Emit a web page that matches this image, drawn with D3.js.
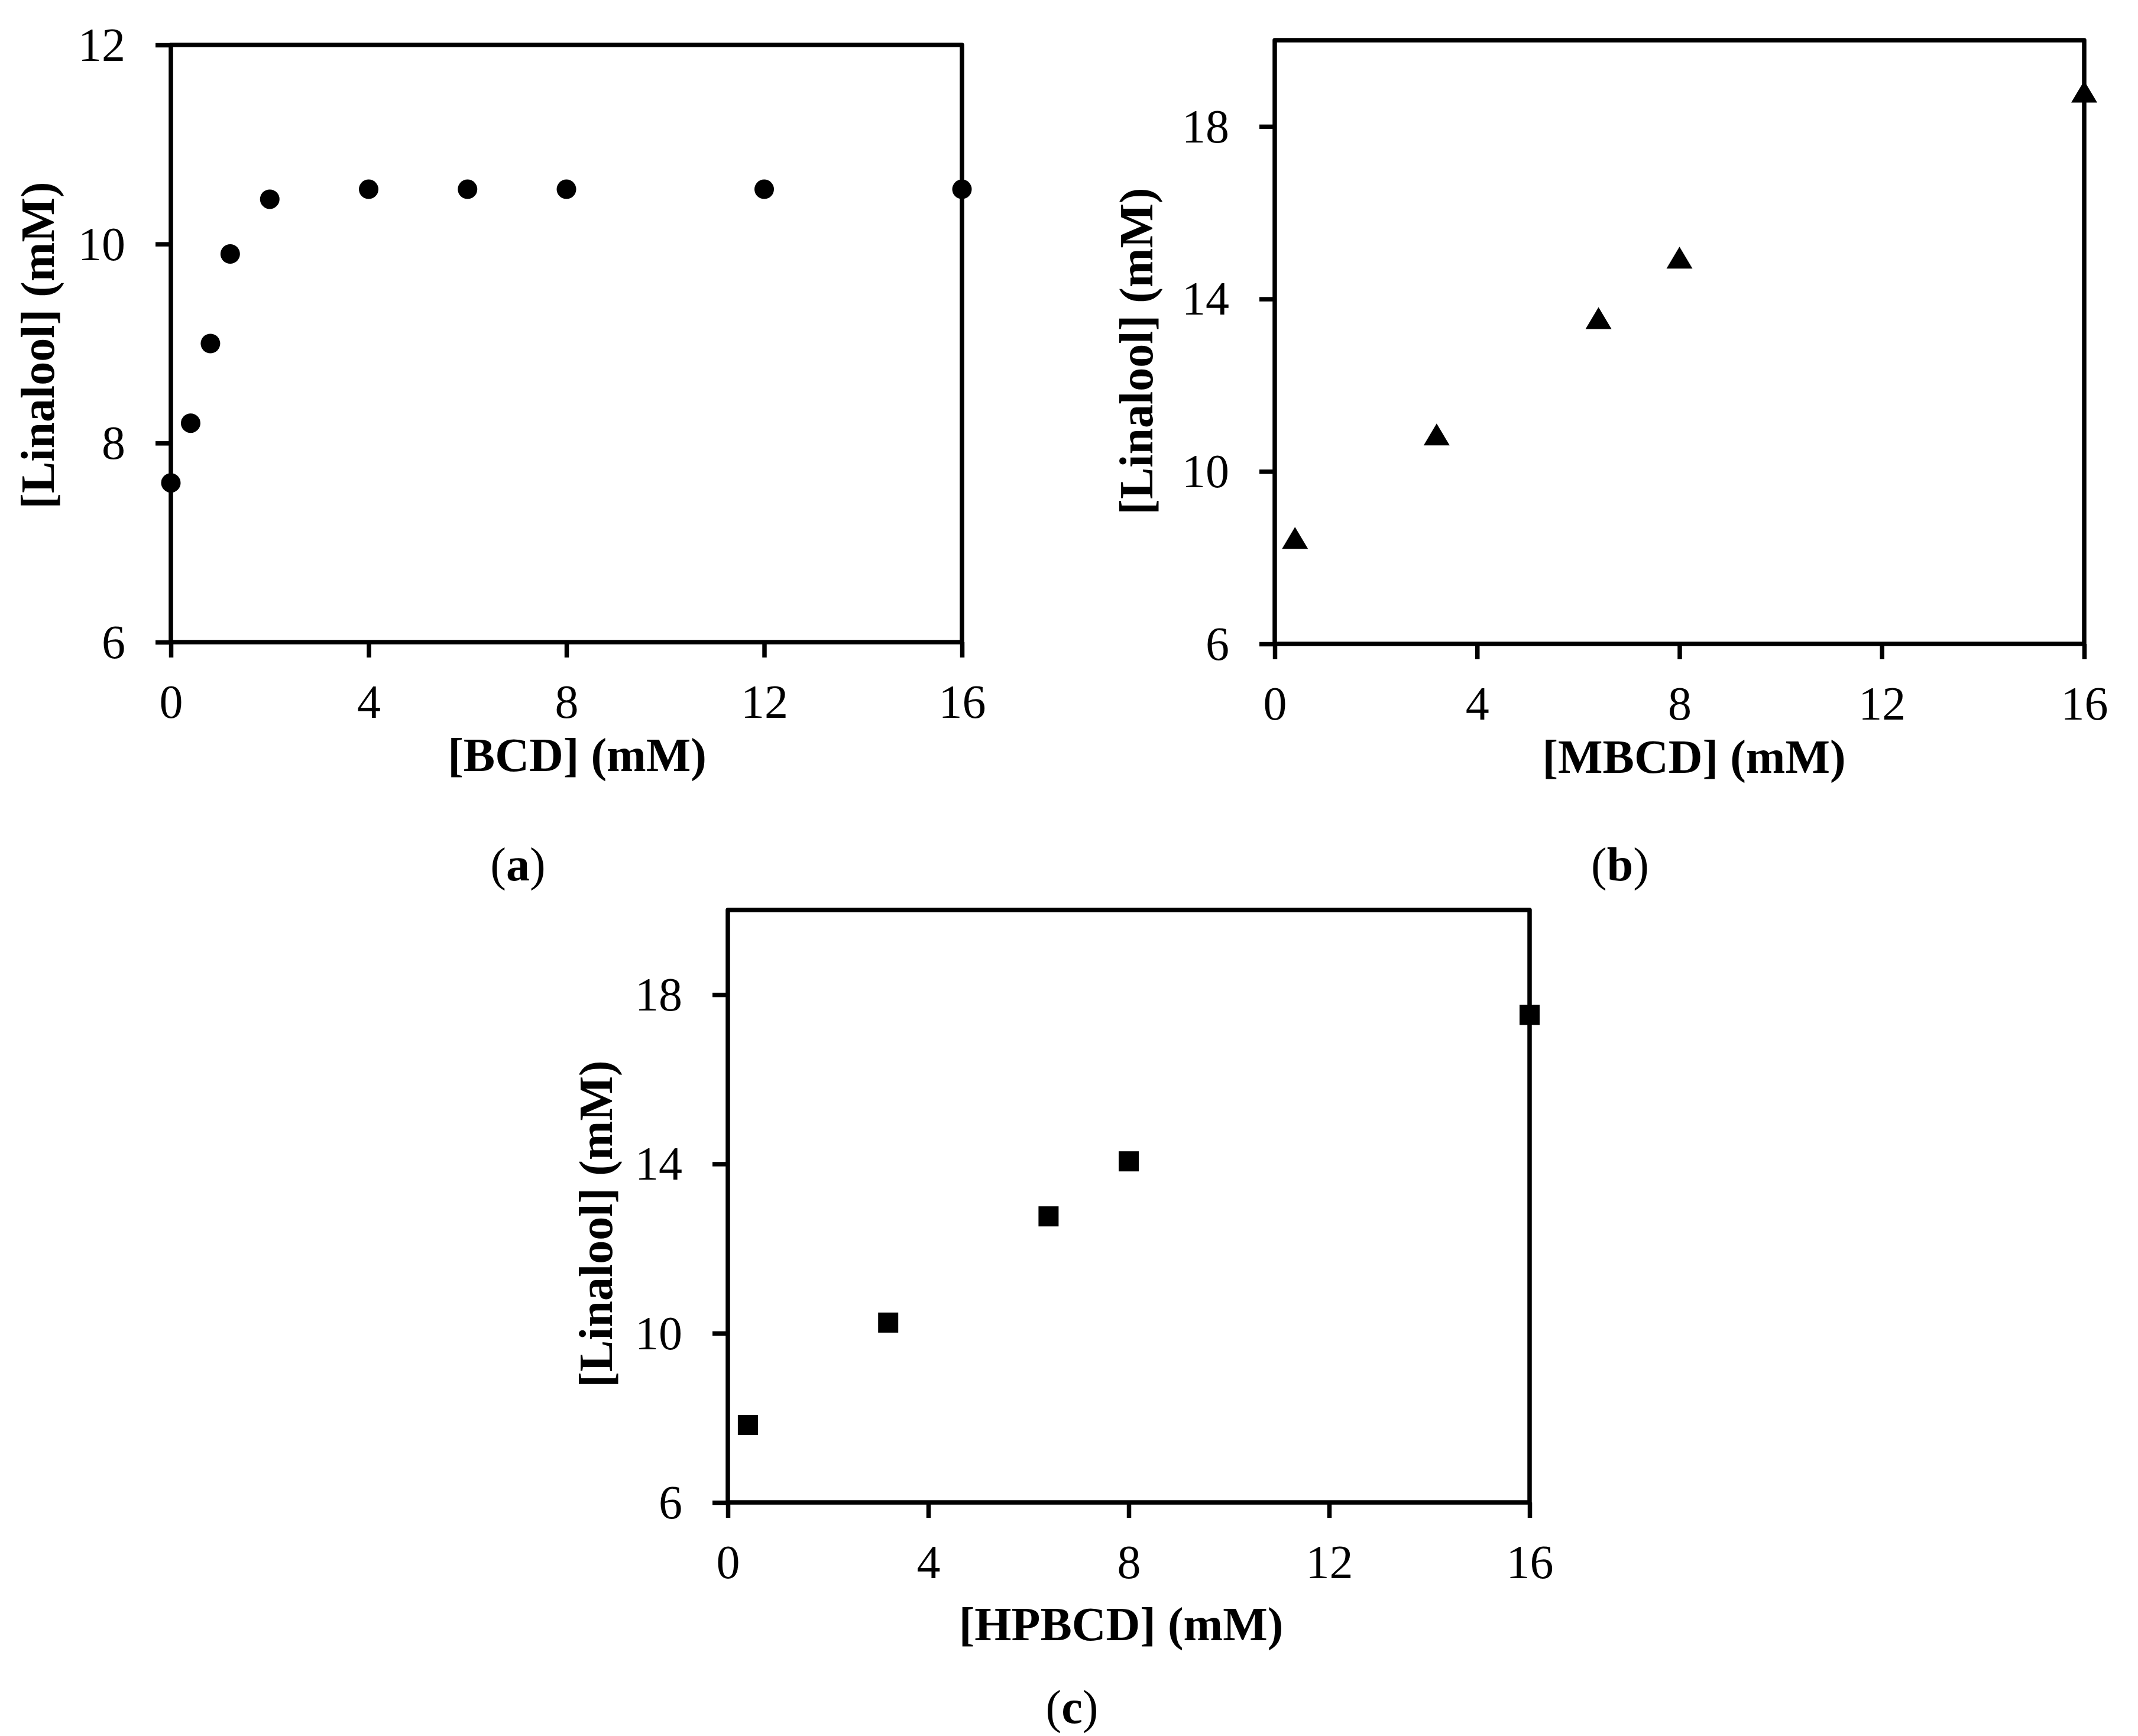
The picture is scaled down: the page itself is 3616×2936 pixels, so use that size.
<!DOCTYPE html>
<html>
<head>
<meta charset="utf-8">
<script src="https://cdn.jsdelivr.net/npm/d3@7"></script>
<style>
  body { margin: 0; background: #fff; }
  svg { display: block; }
  text { font-family: "Liberation Serif", "DejaVu Serif", serif; fill: #000; }
</style>
</head>
<body>
<svg id="fig" width="3616" height="2936"></svg>
<script>
// data
const bcdConc = [0, 0.4, 0.8, 1.2, 2, 4, 6, 8, 12, 16];
const linaloolBCD = [7.6, 8.2, 9.0, 9.9, 10.45, 10.55, 10.55, 10.55, 10.55, 10.55];
const mbcdConc = [0.4, 3.2, 6.4, 8, 16];
const linaloolMBCD = [8.45, 10.85, 13.55, 14.95, 18.8];
const hpbcdConc = [0.4, 3.2, 6.4, 8, 16];
const linaloolHPBCD = [7.83, 10.25, 12.76, 14.06, 17.52];
const xTicks = [0, 4, 8, 12, 16];
const yTicksA = [6, 8, 10, 12];
const yTicksBC = [6, 10, 14, 18];

const svg = d3.select('#fig');
const lw = 7.5;
const fmt = d3.format('d');

function drawPanel(p) {
    const x = d3.scaleLinear().domain([0, 16]).range([p.left, p.right]);
    const y = d3.scaleLinear().domain(p.yDomain).range([p.bottom, p.top]);
    const g = svg.append('g');

    // y axis
    const ya = g.append('g')
        .attr('transform', `translate(${p.left},0)`)
        .call(d3.axisLeft(y).tickValues(p.yTicks).tickFormat(fmt).tickSize(26).tickSizeOuter(0));
    // x axis
    const xa = g.append('g')
        .attr('transform', `translate(0,${p.bottom})`)
        .call(d3.axisBottom(x).tickValues(xTicks).tickFormat(fmt).tickSize(26).tickSizeOuter(0));

    [ya, xa].forEach(a => {
        a.select('.domain').remove();
        a.selectAll('line').attr('stroke', '#000').attr('stroke-width', lw);
        a.selectAll('text')
            .attr('font-family', '"Liberation Serif", serif')
            .attr('font-size', 80)
            .attr('fill', '#000');
    });
    ya.selectAll('text').attr('x', -77).attr('dy', '0.33em');
    xa.selectAll('text').attr('y', 128).attr('dy', null);

    // frame
    g.append('rect')
        .attr('x', p.left).attr('y', p.top)
        .attr('width', p.right - p.left).attr('height', p.bottom - p.top)
        .attr('fill', 'none').attr('stroke', '#000')
        .attr('stroke-width', lw).attr('stroke-linejoin', 'round');

    // markers
    const pts = p.xs.map((v, i) => ({x: v, y: p.ys[i]}));
    if (p.marker === 'circle') {
        g.selectAll('circle.pt').data(pts).enter().append('circle')
            .attr('class', 'pt')
            .attr('cx', d => x(d.x)).attr('cy', d => y(d.y)).attr('r', 16.5)
            .attr('fill', '#000');
    } else if (p.marker === 'triangle') {
        g.selectAll('path.pt').data(pts).enter().append('path')
            .attr('class', 'pt')
            .attr('d', d => {
                const cx = x(d.x), cy = y(d.y);
                return `M${cx},${cy - 19}L${cx + 22},${cy + 18}L${cx - 22},${cy + 18}Z`;
            })
            .attr('fill', '#000');
    } else {
        g.selectAll('rect.pt').data(pts).enter().append('rect')
            .attr('class', 'pt')
            .attr('x', d => x(d.x) - 17).attr('y', d => y(d.y) - 17)
            .attr('width', 34).attr('height', 34)
            .attr('fill', '#000');
    }

    // axis titles
    g.append('text')
        .attr('transform', `translate(${p.yTitle[0]},${p.yTitle[1]}) rotate(-90)`)
        .attr('text-anchor', 'middle')
        .attr('dominant-baseline', 'central')
        .attr('font-size', 80).attr('font-weight', 'bold')
        .text('[Linalool] (mM)');
    g.append('text')
        .attr('x', p.xTitle[0]).attr('y', p.xTitle[1])
        .attr('text-anchor', 'middle')
        .attr('font-size', 80).attr('font-weight', 'bold')
        .text(p.xLabel);

    // panel letter
    const t = g.append('text')
        .attr('x', p.letterPos[0]).attr('y', p.letterPos[1])
        .attr('text-anchor', 'middle')
        .attr('font-size', 80);
    t.append('tspan').text('(');
    t.append('tspan').attr('font-weight', 'bold').text(p.letter);
    t.append('tspan').text(')');
}

drawPanel({
    left: 289, right: 1627, top: 76, bottom: 1086,
    yDomain: [6, 12], yTicks: yTicksA,
    xs: bcdConc, ys: linaloolBCD, marker: 'circle',
    xLabel: '[BCD] (mM)', xTitle: [976, 1304], yTitle: [64, 584],
    letter: 'a', letterPos: [876, 1489]
});
drawPanel({
    left: 2156, right: 3525, top: 68, bottom: 1089,
    yDomain: [6, 20], yTicks: yTicksBC,
    xs: mbcdConc, ys: linaloolMBCD, marker: 'triangle',
    xLabel: '[MBCD] (mM)', xTitle: [2865, 1307], yTitle: [1922, 594],
    letter: 'b', letterPos: [2740, 1489]
});
drawPanel({
    left: 1231, right: 2587, top: 1539, bottom: 2541,
    yDomain: [6, 20], yTicks: yTicksBC,
    xs: hpbcdConc, ys: linaloolHPBCD, marker: 'square',
    xLabel: '[HPBCD] (mM)', xTitle: [1896, 2774], yTitle: [1008, 2070],
    letter: 'c', letterPos: [1813, 2914]
});
</script>
</body>
</html>
